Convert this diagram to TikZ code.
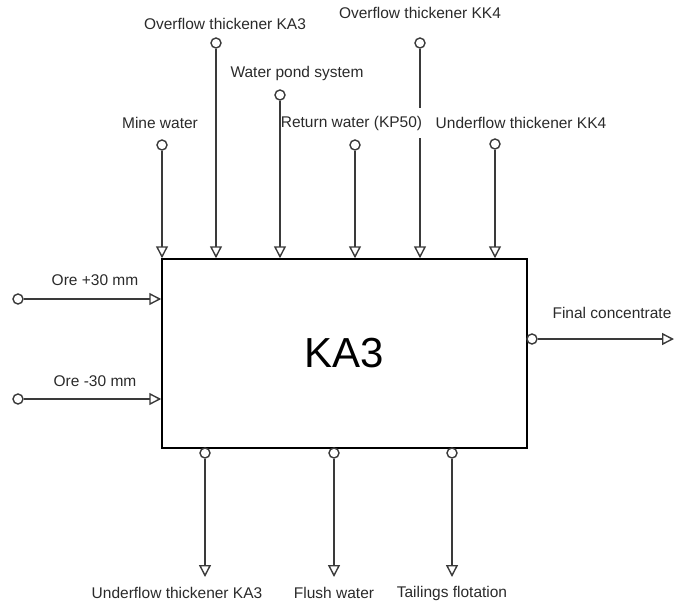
\documentclass[tikz,border=0pt]{standalone}
\usepackage{fontspec}
\setmainfont{Liberation Sans}
\usetikzlibrary{arrows.meta}
\definecolor{linecol}{HTML}{3A3A3A}
\definecolor{txtcol}{HTML}{2A2A2A}
\tikzset{
  lbl/.style={font=\fontsize{15.5}{18}\selectfont, text=txtcol, inner sep=0pt},
  port/.style={circle, draw=linecol, fill=white, line width=1.4pt, minimum size=10pt, inner sep=0pt},
  flow/.style={draw=linecol, line width=1.8pt, -{Triangle[open, length=12pt, width=12pt, line width=1.4pt]}},
  plain/.style={draw=linecol, line width=1.8pt},
  mainbox/.style={draw=black, line width=1.5pt, minimum width=365pt, minimum height=189pt, inner sep=0pt}
}
\begin{document}
\begin{tikzpicture}[x=1pt,y=-1pt]
\useasboundingbox (0,0) rectangle (675,602);
% main box
\node[mainbox, font=\fontsize{42}{46}\selectfont] (box) at (344.5,353.5) {KA3};
% top labels
\node[lbl] (lOKA3) at (225,24) {Overflow thickener KA3};
\node[lbl] (lOKK4) at (420,13) {Overflow thickener KK4};
\node[lbl] (lWP) at (297,73) {Water pond system};
\node[lbl] (lMW) at (160,123) {Mine water};
\node[lbl] (lRW) at (351.5,123) {Return water (KP50)};
\node[lbl] (lUKK4) at (521,123) {Underflow thickener KK4};
% top ports
\node[port] (pMW) at (162,145) {};
\node[port] (pOKA3) at (216,43) {};
\node[port] (pWP) at (280,95) {};
\node[port] (pRW) at (355,145) {};
\node[port] (pOKK4) at (420,43) {};
\node[port] (pUKK4) at (495,144) {};
\draw[flow] (pMW) -- (pMW |- box.north);
\draw[flow] (pOKA3) -- (pOKA3 |- box.north);
\draw[flow] (pWP) -- (pWP |- box.north);
\draw[flow] (pRW) -- (pRW |- box.north);
\coordinate (g1) at (420,108);
\coordinate (g2) at (420,138);
\draw[plain] (pOKK4) -- (g1);
\draw[flow] (g2) -- (g2 |- box.north);
\draw[flow] (pUKK4) -- (pUKK4 |- box.north);
% left inputs
\node[lbl] (lOp) at (95,280) {Ore +30 mm};
\node[lbl] (lOm) at (95,381) {Ore -30 mm};
\node[port] (pOp) at (18,299) {};
\node[port] (pOm) at (18,399) {};
\draw[flow] (pOp) -- (pOp -| box.west);
\draw[flow] (pOm) -- (pOm -| box.west);
% right output
\node[lbl] (lFC) at (612,313) {Final concentrate};
\node[port] (pFC) at (532,339) {};
\coordinate (eFC) at (674,339);
\draw[flow] (pFC) -- (eFC);
% bottom outputs
\node[port] (pUKA3) at (205,453) {};
\node[port] (pFW) at (334,453) {};
\node[port] (pTF) at (452,453) {};
\coordinate (eUKA3) at (205,577);
\coordinate (eFW) at (334,577);
\coordinate (eTF) at (452,577);
\draw[flow] (pUKA3) -- (eUKA3);
\draw[flow] (pFW) -- (eFW);
\draw[flow] (pTF) -- (eTF);
\node[lbl] (lUKA3) at (177,593) {Underflow thickener KA3};
\node[lbl] (lFW) at (334,593) {Flush water};
\node[lbl] (lTF) at (452,593) {Tailings flotation};
\end{tikzpicture}
\end{document}
